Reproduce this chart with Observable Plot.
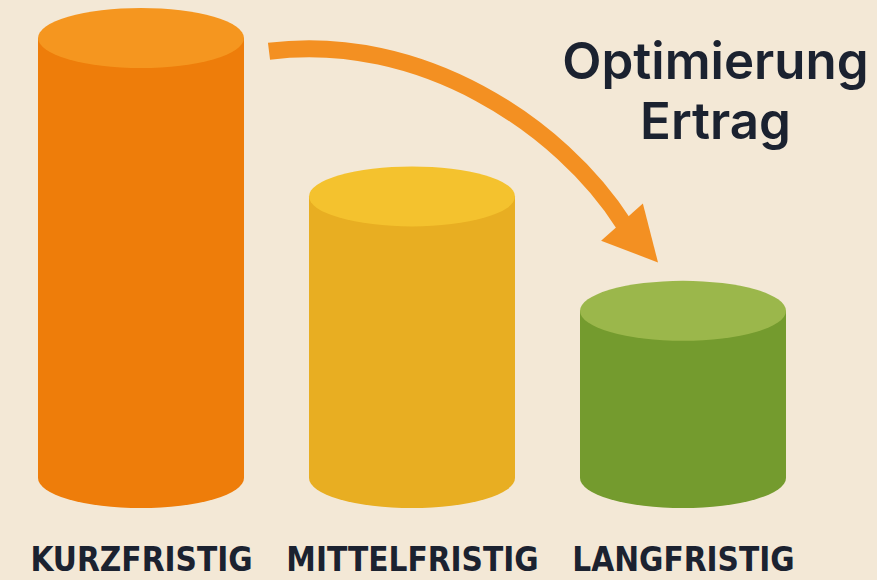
<!DOCTYPE html>
<html>
<head>
<meta charset="utf-8">
<script src="https://cdn.jsdelivr.net/npm/d3@7"></script>
<script src="https://cdn.jsdelivr.net/npm/@observablehq/plot@0.6"></script>
<style>
  html, body { margin: 0; padding: 0; background: #F3E8D6; }
  #chart svg { display: block; }
</style>
</head>
<body>
<div id="chart"></div>
<script>
// ---- data ----
const categories = ["KURZFRISTIG", "MITTELFRISTIG", "LANGFRISTIG"];
const values = [100, 64, 38];
const bodyColors = ["#EE7D0A", "#E8AE22", "#749B2E"];
const topColors = ["#F5961F", "#F4C22E", "#9BB74B"];
const annotationLines = ["Optimierung", "Ertrag"];
const arrowFrom = {category: "KURZFRISTIG", value: 97};
const arrowTo = {category: "LANGFRISTIG", value: 49};

const data = categories.map((c, i) => ({category: c, value: values[i], body: bodyColors[i], top: topColors[i]}));

const ARROW_COLOR = "#F39022";
const TEXT_COLOR = "#1B2230";

function cylinderRender(index, scales, V) {
  const g = d3.create("svg:g");
  const bw = scales.x.bandwidth();
  const rx = bw / 2, ry = 30;
  for (const i of index) {
    const x0 = V.x[i];
    const yTop = Math.min(V.y1[i], V.y2[i]);
    const yBot = Math.max(V.y1[i], V.y2[i]);
    g.append("path")
      .attr("d", `M${x0},${yTop}L${x0},${yBot}A${rx},${ry} 0 0 0 ${x0 + bw},${yBot}L${x0 + bw},${yTop}Z`)
      .attr("fill", data[i].body);
    g.append("ellipse")
      .attr("cx", x0 + rx).attr("cy", yTop).attr("rx", rx).attr("ry", ry)
      .attr("fill", data[i].top);
  }
  return g.node();
}

function arrowRender(index, scales) {
  const bw = scales.x.bandwidth();
  const sx = scales.x(arrowFrom.category) + bw + 25, sy = scales.y(arrowFrom.value);
  const tx = scales.x(arrowTo.category) + bw / 2 - 25, ty = scales.y(arrowTo.value);
  const dx = tx - sx, dy = ty - sy;
  const c1 = [sx + 0.39 * dx, sy - 0.09 * dy];
  const c2 = [sx + 0.75 * dx, sy + 0.35 * dy];
  // head
  const hl = 54, hw = 28;
  const ang = Math.atan2(38, 34);
  const ux = Math.cos(ang), uy = Math.sin(ang);
  const bx = tx - hl * ux, by = ty - hl * uy;
  const px = -uy, py = ux;
  const g = d3.create("svg:g");
  g.append("path")
    .attr("d", `M${sx},${sy}C${c1[0]},${c1[1]} ${c2[0]},${c2[1]} ${bx + 3 * ux},${by + 3 * uy}`)
    .attr("fill", "none").attr("stroke", ARROW_COLOR).attr("stroke-width", 17);
  g.append("path")
    .attr("d", `M${tx},${ty}L${bx + hw * px},${by + hw * py}L${bx - hw * px},${by - hw * py}Z`)
    .attr("fill", ARROW_COLOR);
  return g.node();
}

const plot = Plot.plot({
  width: 877,
  height: 580,
  marginTop: 38,
  marginBottom: 102,
  marginLeft: 37,
  marginRight: 91,
  style: {background: "#F3E8D6", overflow: "visible"},
  x: {domain: categories, paddingInner: 0.24, paddingOuter: 0, axis: null},
  y: {domain: [0, 100], axis: null},
  marks: [
    Plot.barY(data, {x: "category", y: "value", render: cylinderRender}),
    Plot.barY([0], {x: () => categories[0], y: () => 0, render: arrowRender}),
    Plot.text(categories, {
      x: d => d, frameAnchor: "bottom", dy: 92, lineAnchor: "bottom",
      fontSize: 33, fontWeight: "bold", fill: TEXT_COLOR,
      fontFamily: "'DejaVu Sans Condensed', 'DejaVu Sans', sans-serif",
      fontStretch: "condensed"
    }),
    Plot.text([annotationLines.join("\n")], {
      frameAnchor: "top-right", textAnchor: "middle", lineAnchor: "top",
      dx: -71, dy: -2, lineHeight: 1.18,
      fontSize: 51, fontWeight: 600, fill: TEXT_COLOR,
      fontFamily: "Inter, sans-serif"
    })
  ]
});
document.getElementById("chart").appendChild(plot);
</script>
</body>
</html>
